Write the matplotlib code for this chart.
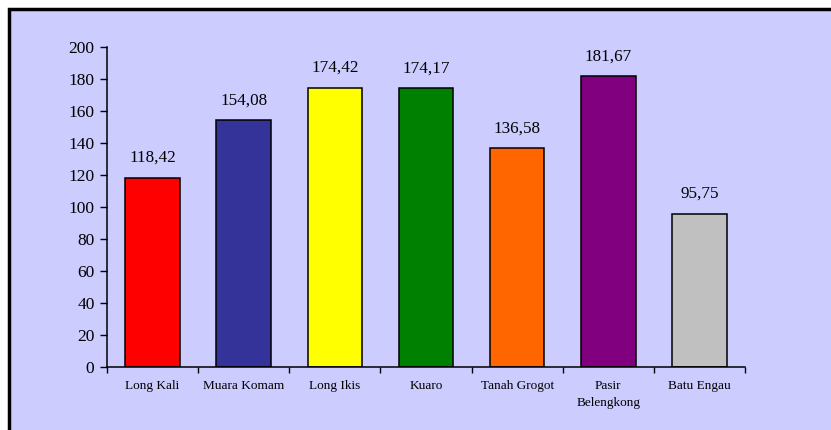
import matplotlib
matplotlib.use("Agg")
import matplotlib.pyplot as plt
import numpy as np
from matplotlib.patches import Rectangle

DISTRICTS = ["Long Kali", "Muara Komam", "Long Ikis", "Kuaro", "Tanah Grogot", "Pasir\nBelengkong", "Batu Engau"]
VALUES = [118.42, 154.08, 174.42, 174.17, 136.58, 181.67, 95.75]
COLORS = ["#FF0000", "#333399", "#FFFF00", "#008000", "#FF6600", "#800080", "#C0C0C0"]
Y_TICKS = list(range(0, 201, 20))

BG = "#CCCCFF"
W, H = 831, 430

plt.rcParams["font.family"] = ["Liberation Serif", "DejaVu Serif"]

fig = plt.figure(figsize=(W / 100, H / 100), dpi=100, facecolor="white")
# lavender panel with black frame, cropped at right and bottom
fig.patches.append(Rectangle((8.5 / W, -0.1), 1.2, (H - 8.5) / H + 0.1, transform=fig.transFigure,
                             facecolor=BG, edgecolor="black", linewidth=2.5, zorder=-1))

ax = fig.add_axes([107 / W, 1 - 367 / H, (745 - 107) / W, (367 - 47) / H])
ax.set_facecolor("none")

x = np.arange(len(DISTRICTS))
bars = ax.bar(x, VALUES, width=0.6, color=COLORS, edgecolor="black", linewidth=1.1, zorder=2)
for xi, v in zip(x, VALUES):
    ax.annotate(f"{v:.2f}".replace(".", ","), (xi, v), xytext=(0, 8.5), textcoords="offset points",
                ha="center", va="bottom", fontsize=12.3)

ax.set_xlim(-0.5, len(DISTRICTS) - 0.5)
ax.set_ylim(0, 200)
ax.set_yticks(Y_TICKS)
ax.tick_params(axis="y", labelsize=12.5, length=5, width=1, pad=4)

ax.set_xticks(np.arange(len(DISTRICTS) + 1) - 0.5)
ax.set_xticklabels([])
ax.set_xticks(x, minor=True)
ax.set_xticklabels(DISTRICTS, minor=True, fontsize=9.5, linespacing=1.5, va="top")
ax.tick_params(axis="x", which="major", length=4, width=1)
ax.tick_params(axis="x", which="minor", length=0, pad=9.5)

for side in ("top", "right"):
    ax.spines[side].set_visible(False)
for side in ("left", "bottom"):
    ax.spines[side].set_linewidth(1.1)

fig.savefig("out.png", dpi=100, facecolor=fig.get_facecolor())
